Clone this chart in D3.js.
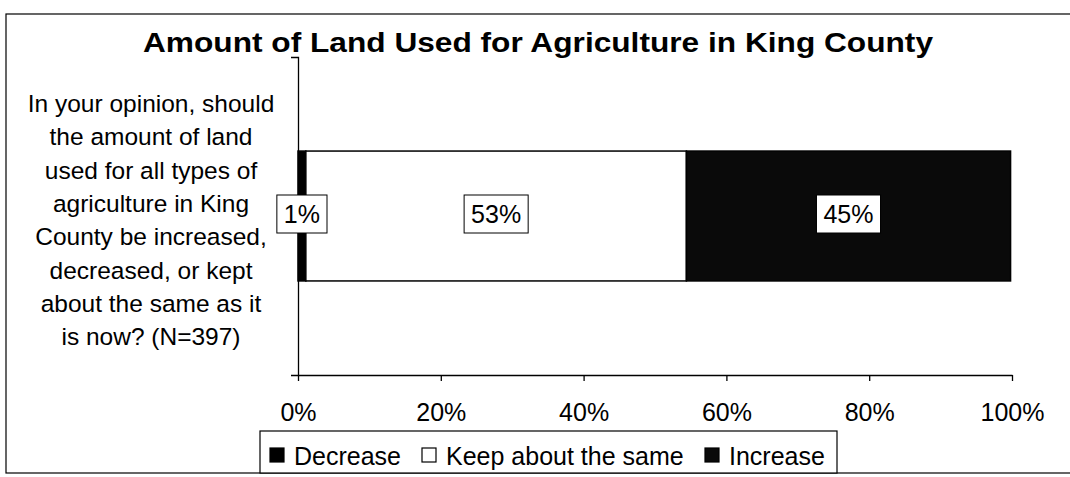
<!DOCTYPE html>
<html><head><meta charset="utf-8">
<script src="https://cdn.jsdelivr.net/npm/d3@7/dist/d3.min.js"></script>
<style>
body{margin:0;background:#fff}
svg{display:block}
text{font-family:"Liberation Sans",Arial,Helvetica,sans-serif;fill:#000}
</style></head><body>
<svg id="c" width="1070" height="477"></svg>
<script>
const chartTitle = "Amount of Land Used for Agriculture in King County";
const categories = ["In your opinion, should the amount of land used for all types of agriculture in King County be increased, decreased, or kept about the same as it is now? (N=397)"];
const categoryLines = ["In your opinion, should","the amount of land","used for all types of","agriculture in King","County be increased,","decreased, or kept","about the same as it","is now? (N=397)"];
const seriesNames = ["Decrease","Keep about the same","Increase"];
const decreaseValues = [1.1];
const keepValues = [53.3];
const increaseValues = [45.4];
const xTickValues = [0,20,40,60,80,100];
const seriesFills = ["#000","#fff","#0a0a0a"];

const svg = d3.select("#c");
const M = {left:298, right:1012, top:57, bottom:375};

// outer frame
svg.append("rect").attr("x",6).attr("y",14).attr("width",1080).attr("height",459)
  .attr("fill","none").attr("stroke","#000").attr("stroke-width",1.2);

// title
svg.append("text").attr("x",143).attr("y",52).attr("font-size",28).attr("font-weight","bold")
  .attr("textLength",790).attr("lengthAdjust","spacingAndGlyphs").text(chartTitle);

const x = d3.scaleLinear().domain([0,100]).range([M.left,M.right]);
const y = d3.scaleBand().domain(categories).range([M.top,M.bottom]).padding(0.42);

const rows = categories.map((c,i)=>({cat:c, Decrease:decreaseValues[i], "Keep about the same":keepValues[i], Increase:increaseValues[i]}));
const stacked = d3.stack().keys(seriesNames)(rows);

const g = svg.append("g");
stacked.forEach((layer,li)=>{
  g.selectAll(null).data(layer).enter().append("rect")
    .attr("x",d=>x(d[0])).attr("width",d=>x(d[1])-x(d[0]))
    .attr("y",d=>y(d.data.cat)).attr("height",y.bandwidth())
    .attr("fill",seriesFills[li]).attr("stroke","#000").attr("stroke-width",1.5);
});

// axes
const xAxis = svg.append("g").attr("transform",`translate(0,${M.bottom})`)
  .call(d3.axisBottom(x).tickValues(xTickValues).tickFormat(d=>d+"%").tickSize(6).tickSizeOuter(0).tickPadding(22));
xAxis.selectAll("text").attr("font-size",25).attr("font-family",null);
xAxis.selectAll("path,line").attr("stroke","#000").attr("stroke-width",1.3);

const yAxis = svg.append("g").attr("transform",`translate(${M.left},0)`)
  .call(d3.axisLeft(y).tickValues([]).tickSizeOuter(7));
yAxis.selectAll("path").attr("stroke","#000").attr("stroke-width",1.3);

// data labels (on top)
stacked.forEach((layer,li)=>{
  layer.forEach(d=>{
    const cx = (x(d[0])+x(d[1]))/2;
    const cy = y(d.data.cat)+y.bandwidth()/2 - 2;
    const lg = svg.append("g");
    const t = lg.append("text").attr("x",cx).attr("y",cy+9).attr("text-anchor","middle")
      .attr("font-size",25).text(Math.round(d[1]-d[0])+"%");
    const w = t.node().getComputedTextLength()+14;
    lg.insert("rect","text").attr("x",cx-w/2).attr("y",cy-19).attr("width",w).attr("height",38)
      .attr("fill","#fff").attr("stroke","#000").attr("stroke-width",1);
  });
});

// category label
const ct = svg.append("text").attr("text-anchor","middle").attr("font-size",24.5);
categoryLines.forEach((l,i)=>ct.append("tspan").attr("x",151).attr("y",112+i*33.3).text(l));

// legend
const lgd = svg.append("g");
lgd.append("rect").attr("x",260).attr("y",431).attr("width",577).attr("height",42)
  .attr("fill","#fff").attr("stroke","#000").attr("stroke-width",1.2);
const legX = [270,422,705];
seriesNames.forEach((s,i)=>{
  lgd.append("rect").attr("x",legX[i]).attr("y",448).attr("width",14).attr("height",14)
    .attr("fill",seriesFills[i]).attr("stroke","#000").attr("stroke-width",1.2);
  lgd.append("text").attr("x",legX[i]+24).attr("y",465).attr("font-size",25).text(s);
});
</script></body></html>
